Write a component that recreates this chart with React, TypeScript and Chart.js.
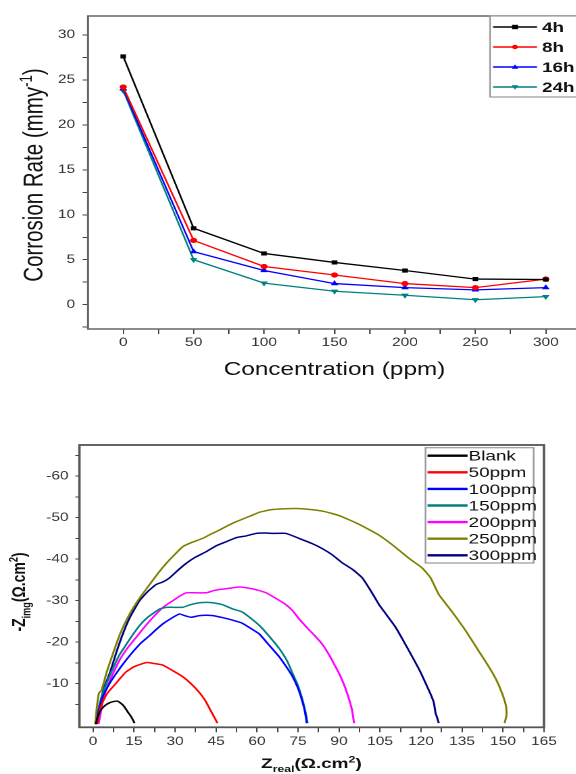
import React, { useEffect, useRef } from 'react';
import { Chart, registerables } from 'chart.js';

Chart.register(...registerables);

// horizontal stretch of the reference figure
const S = 1.35;
const FONT = '"Liberation Sans", Arial, Helvetica, sans-serif';

// ---------------- Top chart data ----------------
const concentrations = [0, 50, 100, 150, 200, 250, 300];
const rate4h = [27.6, 8.5, 5.7, 4.7, 3.8, 2.85, 2.8];
const rate8h = [24.2, 7.15, 4.25, 3.3, 2.35, 1.9, 2.85];
const rate16h = [24.0, 5.9, 3.8, 2.35, 1.9, 1.65, 1.9];
const rate24h = [23.8, 5.0, 2.4, 1.5, 1.05, 0.55, 0.9];
const timeLabels = ['4h', '8h', '16h', '24h'];
const concMajorTicks = [0, 50, 100, 150, 200, 250, 300];
const concMinorTicks = [25, 75, 125, 175, 225, 275];
const rateMajorTicks = [0, 5, 10, 15, 20, 25, 30];
const rateMinorTicks = [-2.5, 2.5, 7.5, 12.5, 17.5, 22.5, 27.5];

// ---------------- Bottom chart data (Nyquist) ----------------
const nyqLabels = ['Blank', '50ppm', '100ppm', '150ppm', '200ppm', '250ppm', '300ppm'];
const blankRe = [1, 1.8, 3, 4.5, 6, 7.5, 9, 10.5, 11.5, 12.8, 14, 15.2];
const blankIm = [-0.2, -2.2, -3.8, -4.8, -5.4, -5.7, -5.8, -5.1, -4.4, -3.1, -2, -0.5];
const p50Re = [1.5, 2.5, 5, 8.5, 12, 15, 19.5, 22, 25.5, 29, 32.8, 36, 39, 41, 42.8, 44.3, 45.5];
const p50Im = [-0.3, -4, -7.5, -10.2, -12.8, -14.1, -15.1, -14.9, -14.5, -13.2, -11.7, -9.9, -7.8, -6, -3.8, -2, -0.5];
const p100Re = [1.3, 2, 3.6, 6, 8.5, 11.5, 14.6, 17.5, 20.7, 23, 25.5, 28.5, 31.6, 33.5, 35.9, 38.9, 41.5, 43.8, 47.5, 51.1, 54.5, 57.5, 60.8, 64, 68.1, 71, 73, 74.8, 76, 77.2, 77.8, 78.2];
const p100Im = [-0.3, -3.5, -7, -10, -12.5, -15.2, -17.7, -19.8, -21.6, -23, -24.4, -25.7, -26.8, -26.4, -26, -26.4, -26.5, -26.4, -25.9, -25.3, -24.6, -23.4, -22, -19.6, -16.5, -13.8, -11.7, -9.2, -7, -4.2, -2.2, -0.5];
const p150Re = [1.3, 2.2, 3.6, 5.5, 7.5, 9.5, 11.5, 14, 17, 20, 22.5, 24.3, 26.8, 29.5, 32.8, 35.5, 38.9, 41.5, 43.8, 47.5, 51.1, 54.5, 58.4, 61.5, 65, 68.1, 71, 73, 75, 76.6, 77.8, 78.5];
const p150Im = [-0.3, -4.5, -7.8, -11, -14, -16.8, -18.8, -21.3, -24, -26, -27.2, -28, -28.4, -28.4, -28.4, -29, -29.5, -29.6, -29.5, -29, -28, -27.3, -25.4, -23.6, -21, -18.5, -15.5, -12.5, -9.5, -6.2, -3, -0.5];
const p200Re = [2, 2.8, 3.6, 6, 9.7, 12.5, 15.8, 19.5, 23.1, 26, 29.2, 32, 34.1, 37.5, 41.4, 44, 46.2, 50, 53.5, 57.2, 60.5, 63.3, 66, 70, 73, 75.4, 79, 81.5, 84, 86.5, 88.3, 90, 92, 93.7, 94.8, 95.5];
const p200Im = [-0.3, -3, -6.2, -10.5, -15.7, -18.5, -21.2, -24.2, -26.8, -28.6, -30, -31.2, -31.9, -31.9, -31.9, -32.4, -32.7, -33, -33.3, -33, -32.5, -31.9, -30.9, -29.3, -27.6, -25.6, -23, -21.3, -19.4, -16.8, -14.6, -12.5, -9.5, -6.2, -3.5, -0.5];
const p250Re = [0.8, 1.5, 2.2, 3.1, 5, 7.3, 10, 13.4, 17, 20.7, 24, 26.8, 30, 32.8, 36, 40.1, 43, 46.2, 49, 52.3, 57.2, 60.8, 65, 69.3, 74, 79.1, 84.5, 90, 97, 104.6, 110, 115.6, 120.4, 123.5, 126.5, 131.5, 136.3, 140.5, 144.8, 147.5, 149.6, 151.1, 151.3, 150.6];
const p250Im = [-0.3, -5, -7.8, -8.4, -12.8, -17.3, -22.2, -26.8, -30.6, -33.9, -36.8, -39, -41.2, -43, -44, -45, -46, -47, -48, -49, -50.3, -51.3, -51.9, -52.1, -52.2, -52, -51.5, -50.5, -48.5, -45.8, -43.2, -40.2, -37.9, -35.5, -31.5, -27.2, -22.8, -18.5, -14.1, -11, -7.8, -4.6, -2.5, -0.5];
const p300Re = [1, 2.5, 4, 6.1, 8.5, 10.9, 13.5, 17, 20, 23.1, 25.5, 28, 31, 34.1, 37.5, 41.4, 45, 48.7, 52.5, 56, 59.6, 63, 65.7, 70.6, 75.4, 80, 84, 87.6, 91, 95, 98.5, 101.5, 104.6, 107.5, 110.7, 113.5, 116.8, 119.5, 121.7, 123.5, 124.7, 125.3, 126, 126.5];
const p300Im = [-0.3, -5, -9, -12.5, -17.5, -22, -26, -30, -32.2, -33.9, -34.5, -35.5, -37.3, -39, -40.5, -41.8, -43.2, -44.2, -45.2, -45.6, -46.2, -46.3, -46.2, -46.2, -45, -43.8, -42.5, -41, -39.2, -37.5, -35.5, -32.5, -29.1, -26.5, -23.6, -20.4, -16.5, -13.2, -10.1, -7.5, -5.4, -3, -1.6, -0.5];
const zreMajorTicks = [0, 15, 30, 45, 60, 75, 90, 105, 120, 135, 150, 165];
const zreMinorTicks = [7.5, 22.5, 37.5, 52.5, 67.5, 82.5, 97.5, 112.5, 127.5, 142.5, 157.5];
const zimMajorTicks = [-60, -50, -40, -30, -20, -10];
const zimMinorTicks = [-65, -55, -45, -35, -25, -15, -5];

// ---------------- helpers ----------------
type Part = { t: string; s?: number };

function drawRich(ctx: CanvasRenderingContext2D, parts: Part[], x: number, y: number, size: number, weight: string, rotate: boolean) {
  ctx.save();
  ctx.translate(x, y);
  if (rotate) ctx.rotate(-Math.PI / 2);
  const fontFor = (s?: number) => `${weight} ${s ? size * 0.65 : size}px ${FONT}`;
  let total = 0;
  const widths = parts.map((p) => {
    ctx.font = fontFor(p.s);
    const w = ctx.measureText(p.t).width;
    total += w;
    return w;
  });
  let cx = -total / 2;
  const base = size * 0.36;
  ctx.textAlign = 'left';
  ctx.textBaseline = 'alphabetic';
  ctx.fillStyle = '#111';
  parts.forEach((p, i) => {
    ctx.font = fontFor(p.s);
    const dy = p.s === 1 ? -size * 0.4 : p.s === -1 ? size * 0.3 : 0;
    ctx.fillText(p.t, cx, base + dy);
    cx += widths[i];
  });
  ctx.restore();
}

function drawMarker(ctx: CanvasRenderingContext2D, style: string, rot: number, cx: number, cy: number, r: number) {
  ctx.beginPath();
  if (style === 'rect') {
    ctx.rect(cx - r, cy - r, 2 * r, 2 * r);
  } else if (style === 'circle') {
    ctx.arc(cx, cy, r, 0, Math.PI * 2);
  } else {
    const d = rot === 180 ? -1 : 1;
    ctx.moveTo(cx, cy - d * r * 1.2);
    ctx.lineTo(cx + r * 1.1, cy + d * r * 0.8);
    ctx.lineTo(cx - r * 1.1, cy + d * r * 0.8);
    ctx.closePath();
  }
  ctx.fill();
}

type LegendCfg = {
  box: [number, number, number, number];
  rows: number[];
  lineX: [number, number];
  textX: number;
  font: string;
  lineWidth: number;
  markers: boolean;
};

function framePlugin(id: string, frameColor: string, frameWidth: number, titles: { parts: Part[]; x: number; y: number; size: number; weight: string; rotate: boolean }[], legend: LegendCfg) {
  return {
    id,
    afterDraw(chart: any) {
      const ctx: CanvasRenderingContext2D = chart.ctx;
      const a = chart.chartArea;
      ctx.save();
      ctx.strokeStyle = frameColor;
      ctx.lineWidth = frameWidth;
      ctx.strokeRect(a.left, a.top, a.right - a.left, a.bottom - a.top);
      ctx.restore();

      titles.forEach((t) => drawRich(ctx, t.parts, t.x, t.y, t.size, t.weight, t.rotate));

      // legend
      const [bx0, by0, bx1, by1] = legend.box;
      ctx.save();
      ctx.fillStyle = '#ffffff';
      ctx.fillRect(bx0, by0, bx1 - bx0, by1 - by0);
      ctx.strokeStyle = '#9a9a9a';
      ctx.lineWidth = 1.2;
      ctx.strokeRect(bx0, by0, bx1 - bx0, by1 - by0);
      chart.data.datasets.forEach((ds: any, i: number) => {
        const y = legend.rows[i];
        ctx.strokeStyle = ds.borderColor;
        ctx.lineWidth = legend.lineWidth;
        ctx.beginPath();
        ctx.moveTo(legend.lineX[0], y);
        ctx.lineTo(legend.lineX[1], y);
        ctx.stroke();
        if (legend.markers) {
          ctx.fillStyle = ds.borderColor;
          drawMarker(ctx, ds.pointStyle, ds.pointRotation || 0, (legend.lineX[0] + legend.lineX[1]) / 2, y, 2.2);
        }
        ctx.fillStyle = '#111';
        ctx.font = legend.font;
        ctx.textAlign = 'left';
        ctx.textBaseline = 'middle';
        ctx.fillText(ds.label, legend.textX, y + 1);
      });
      ctx.restore();
    },
  };
}

const withTicks = (major: number[], minor: number[]) => (scale: any) => {
  scale.ticks = [...major, ...minor].sort((p, q) => p - q).map((v) => ({ value: v }));
};
const labelIf = (major: number[]) => (v: any) => (major.includes(Number(v)) ? String(v) : '');

// ---------------- layout (logical px; screen x = logical x * S) ----------------
const TOP_W = 460;
const TOP_H = 390;
const TOP_LEFT = 88 / S;
const TOP_RIGHT = 581 / S;
const TOP_TOP = 16;
const TOP_BOTTOM = 329;

const BOT_W = 576 / S;
const BOT_H = 374;
const BOT_LEFT = 79.3 / S;
const BOT_RIGHT = 543.3 / S;
const BOT_TOP = 45;
const BOT_BOTTOM = 327.3;

function topConfig(): any {
  const series = [rate4h, rate8h, rate16h, rate24h];
  const colors = ['#000000', '#ff0000', '#0000ff', '#008080'];
  const markers = ['rect', 'circle', 'triangle', 'triangle'];
  const rots = [0, 0, 0, 180];
  const tickFont = { family: FONT, size: 11.5 };
  return {
    type: 'line',
    data: {
      datasets: series.map((vals, i) => ({
        label: timeLabels[i],
        data: concentrations.map((c, j) => ({ x: c, y: vals[j] })),
        borderColor: colors[i],
        backgroundColor: colors[i],
        borderWidth: 1.3,
        pointRadius: 2,
        pointStyle: markers[i],
        pointRotation: rots[i],
        tension: 0,
      })),
    },
    options: {
      responsive: true,
      maintainAspectRatio: false,
      animation: false,
      devicePixelRatio: 2,
      events: [],
      layout: { padding: { left: 0, top: TOP_TOP, right: TOP_W - TOP_RIGHT, bottom: 0 } },
      plugins: { legend: { display: false }, tooltip: { enabled: false } },
      scales: {
        x: {
          type: 'linear',
          min: -25,
          max: 325,
          afterBuildTicks: withTicks(concMajorTicks, concMinorTicks),
          ticks: { callback: labelIf(concMajorTicks), font: tickFont, color: '#333', padding: 2, maxRotation: 0, autoSkip: false },
          grid: { drawOnChartArea: false, drawTicks: true, tickLength: 5, tickColor: '#444', tickWidth: 1 },
          border: { display: false },
          afterFit: (s: any) => { s.height = TOP_H - TOP_BOTTOM; },
        },
        y: {
          type: 'linear',
          min: -2.7,
          max: 32.1,
          afterBuildTicks: withTicks(rateMajorTicks, rateMinorTicks),
          ticks: { callback: labelIf(rateMajorTicks), font: tickFont, color: '#333', padding: 5.5, autoSkip: false },
          grid: { drawOnChartArea: false, drawTicks: true, tickLength: 4, tickColor: '#444', tickWidth: 1 },
          border: { display: false },
          afterFit: (s: any) => { s.width = TOP_LEFT; },
        },
      },
    },
    plugins: [
      framePlugin('topFrame', '#666', 1.5, [
        { parts: [{ t: 'Corrosion Rate (mmy' }, { t: '-1', s: 1 }, { t: ')' }], x: 32.5 / S, y: 175, size: 20.5, weight: 'normal', rotate: true },
        { parts: [{ t: 'Concentration (ppm)' }], x: 334.5 / S, y: 368.5, size: 18, weight: 'normal', rotate: false },
      ], {
        box: [490 / S, 16, 640 / S, 97],
        rows: [27, 47, 67, 87],
        lineX: [493 / S, 537 / S],
        textX: 542 / S,
        font: `bold 14px ${FONT}`,
        lineWidth: 1.5,
        markers: true,
      }),
    ],
  };
}

function bottomConfig(): any {
  const res = [blankRe, p50Re, p100Re, p150Re, p200Re, p250Re, p300Re];
  const ims = [blankIm, p50Im, p100Im, p150Im, p200Im, p250Im, p300Im];
  const colors = ['#000000', '#ff0000', '#0000ff', '#008080', '#ff00ff', '#808000', '#000080'];
  const tickFont = { family: FONT, size: 11.5 };
  return {
    type: 'line',
    data: {
      datasets: res.map((re, i) => ({
        label: nyqLabels[i],
        data: re.map((x, j) => ({ x, y: ims[i][j] })),
        borderColor: colors[i],
        backgroundColor: colors[i],
        borderWidth: 1.5,
        pointRadius: 0,
        tension: 0.15,
      })),
    },
    options: {
      responsive: true,
      maintainAspectRatio: false,
      animation: false,
      devicePixelRatio: 2,
      events: [],
      layout: { padding: { left: 0, top: BOT_TOP, right: BOT_W - BOT_RIGHT, bottom: 0 } },
      plugins: { legend: { display: false }, tooltip: { enabled: false } },
      scales: {
        x: {
          type: 'linear',
          min: -5,
          max: 165,
          afterBuildTicks: withTicks(zreMajorTicks, zreMinorTicks),
          ticks: { callback: labelIf(zreMajorTicks), font: tickFont, color: '#333', padding: 2.5, maxRotation: 0, autoSkip: false },
          grid: { drawOnChartArea: false, drawTicks: true, tickLength: 5, tickColor: '#444', tickWidth: 1 },
          border: { display: false },
          afterFit: (s: any) => { s.height = BOT_H - BOT_BOTTOM; },
        },
        y: {
          type: 'linear',
          reverse: true,
          min: -67.5,
          max: 0.5,
          afterBuildTicks: withTicks(zimMajorTicks, zimMinorTicks),
          ticks: { callback: labelIf(zimMajorTicks), font: tickFont, color: '#333', padding: 5, autoSkip: false },
          grid: { drawOnChartArea: false, drawTicks: true, tickLength: 3, tickColor: '#444', tickWidth: 1 },
          border: { display: false },
          afterFit: (s: any) => { s.width = BOT_LEFT; },
        },
      },
    },
    plugins: [
      framePlugin('botFrame', '#555', 1.8, [
        { parts: [{ t: '-Z' }, { t: 'img', s: -1 }, { t: '(\u03A9.cm' }, { t: '2', s: 1 }, { t: ')' }], x: 18 / S, y: 192, size: 14, weight: 'bold', rotate: true },
        { parts: [{ t: 'Z' }, { t: 'real', s: -1 }, { t: '(\u03A9.cm' }, { t: '2', s: 1 }, { t: ')' }], x: 311 / S, y: 363, size: 14, weight: 'bold', rotate: false },
      ], {
        box: [425 / S, 47.7, 533 / S, 163],
        rows: [55.7, 72.3, 88.9, 105.5, 122.1, 138.7, 155.3],
        lineX: [427 / S, 467 / S],
        textX: 468 / S,
        font: `14px ${FONT}`,
        lineWidth: 2.4,
        markers: false,
      }),
    ],
  };
}

export default function App() {
  const topRef = useRef<HTMLCanvasElement>(null);
  const botRef = useRef<HTMLCanvasElement>(null);

  useEffect(() => {
    const c1 = new Chart(topRef.current as HTMLCanvasElement, topConfig());
    const c2 = new Chart(botRef.current as HTMLCanvasElement, bottomConfig());
    return () => {
      c1.destroy();
      c2.destroy();
    };
  }, []);

  return (
    <div style={{ position: 'fixed', left: 0, top: 0, width: 576, height: 774, overflow: 'hidden', background: '#ffffff' }}>
      <div style={{ position: 'absolute', left: 0, top: 0, width: TOP_W, height: TOP_H, transform: `scaleX(${S})`, transformOrigin: '0 0' }}>
        <canvas ref={topRef} />
      </div>
      <div style={{ position: 'absolute', left: 0, top: 400, width: BOT_W, height: BOT_H, transform: `scaleX(${S})`, transformOrigin: '0 0' }}>
        <canvas ref={botRef} />
      </div>
    </div>
  );
}
